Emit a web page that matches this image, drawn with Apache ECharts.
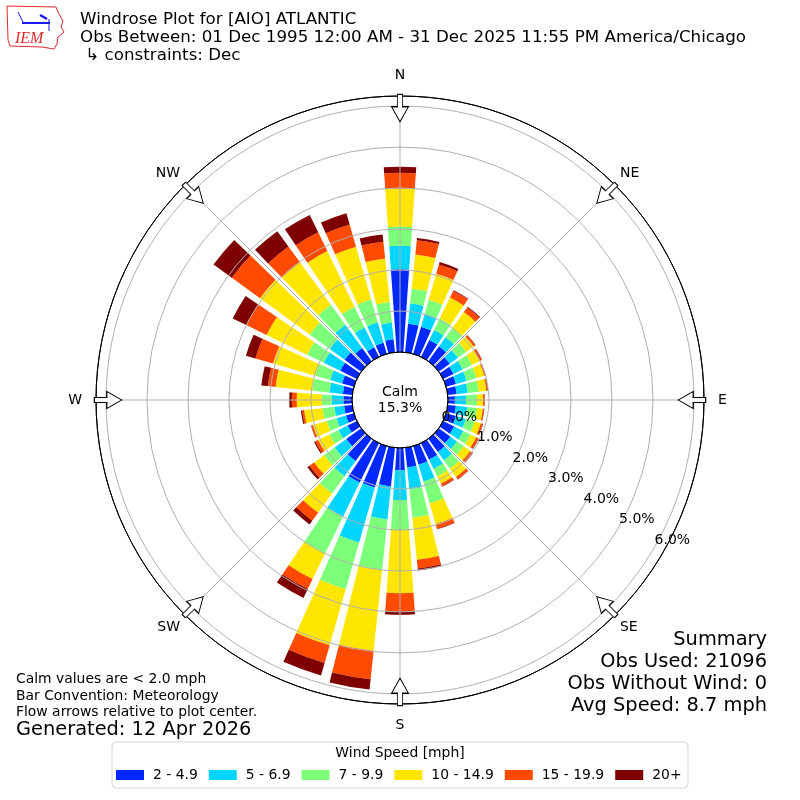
<!DOCTYPE html>
<html>
<head>
<meta charset="utf-8">
<script src="https://cdn.jsdelivr.net/npm/echarts@6/dist/echarts.min.js"></script>
<style>
html,body{margin:0;padding:0;background:#fff;}
#chart{width:800px;height:800px;}
</style>
</head>
<body>
<div id="chart"></div>
<script>
// ---- data ----
const directions = ['0','10','20','30','40','50','60','70','80','90','100','110','120','130','140','150','160','170',
  '180','190','200','210','220','230','240','250','260','270','280','290','300','310','320','330','340','350'];
const speedBins = ['2 - 4.9','5 - 6.9','7 - 9.9','10 - 14.9','15 - 19.9','20+'];
const freq_2_5   = [2.02,0.70,0.69,0.46,0.45,0.33,0.28,0.25,0.22,0.17,0.20,0.25,0.30,0.35,0.40,0.45,0.47,0.48,0.54,0.95,1.05,1.07,0.67,0.45,0.25,0.20,0.20,0.21,0.23,0.30,0.45,0.50,0.40,0.26,0.28,0.32];
const freq_5_7   = [0.57,0.50,0.33,0.27,0.27,0.25,0.25,0.27,0.27,0.27,0.28,0.25,0.25,0.20,0.25,0.25,0.43,0.54,0.73,0.81,1.40,0.93,0.46,0.35,0.25,0.24,0.24,0.29,0.33,0.30,0.45,0.45,0.70,0.54,0.52,0.41];
const freq_7_10  = [0.47,0.36,0.35,0.31,0.28,0.25,0.25,0.25,0.27,0.27,0.24,0.22,0.20,0.20,0.25,0.20,0.55,0.70,0.73,1.24,1.18,1.00,0.52,0.32,0.25,0.25,0.29,0.24,0.42,0.38,0.45,0.60,0.60,0.56,0.58,0.50];
const freq_10_15 = [0.93,0.84,0.66,0.57,0.48,0.22,0.22,0.20,0.19,0.15,0.14,0.16,0.15,0.20,0.25,0.20,0.53,1.03,1.54,1.98,1.42,0.69,0.58,0.30,0.30,0.35,0.45,0.61,0.90,1.07,1.10,1.50,1.28,1.51,1.34,1.07];
const freq_15_20 = [0.38,0.35,0.24,0.18,0.14,0.05,0.05,0.03,0.03,0.03,0.03,0.05,0.06,0.07,0.07,0.07,0.12,0.21,0.45,0.70,0.45,0.27,0.24,0.14,0.08,0.04,0.05,0.12,0.19,0.45,0.55,0.85,0.48,0.51,0.56,0.41];
const freq_20p   = [0.15,0.05,0.06,0.02,0.02,0.01,0.01,0.01,0.01,0.01,0.01,0.01,0.01,0.01,0.01,0.01,0.01,0.05,0.08,0.25,0.32,0.24,0.11,0.06,0.03,0.01,0.03,0.06,0.16,0.24,0.37,0.55,0.46,0.47,0.29,0.18];
const compassAngles = [0,45,90,135,180,225,270,315];
const compassLabels = ['N','NE','E','SE','S','SW','W','NW'];
const calmPct = 15.3;
const radialMax = 6.244;

// ---- styles ----
const speedColors = ['#0028ff','#00d5ff','#7cff79','#ffe600','#ff4a00','#7f0000'];
const FONT = 'DejaVu Sans';
const gridGray = '#b0b0b0';
const freqSeries = [freq_2_5,freq_5_7,freq_7_10,freq_10_15,freq_15_20,freq_20p];

const chart = echarts.init(document.getElementById('chart'), null, {renderer:'canvas'});

const barSeries = speedBins.map((name,i)=>({
  name: name,
  type: 'bar',
  coordinateSystem: 'polar',
  polarIndex: 0,
  stack: 'wind',
  data: freqSeries[i],
  barCategoryGap: '20%',
  itemStyle: {color: speedColors[i]},
  z: 2,
  silent: true
}));

const arrowPath = 'path://M-2.5,0L2.5,0L2.5,12.4L8.5,12.4L0,27.4L-8.5,12.4L-2.5,12.4Z';

function compassFormatter(diagonal) {
  return function(v){
    const k = compassAngles.indexOf(v);
    if (k < 0 || v === 360) return '';
    const isDiag = (v % 90) !== 0;
    return isDiag === diagonal ? compassLabels[k] : '';
  };
}

function txt(text, x, y, size, align, extra) {
  return Object.assign({
    type:'text', x:x, y:y, z: 10,
    style:{text:text, font: size+'px "'+FONT+'"', fill:'#000', textAlign:align||'left', textVerticalAlign:'middle'}
  }, extra||{});
}

const option = {
  animation:false,
  backgroundColor:'#fff',
  polar:[
    {center:['50%','50%'], radius:[48,304]},
    {center:['50%','50%'], radius:[48,304]},
    {center:['50%','50%'], radius:[48,304]},
    {center:['50%','50%'], radius:[48,304]}
  ],
  angleAxis:[
    {polarIndex:0, type:'category', data:directions, startAngle:95, clockwise:true,
     axisLine:{show:false}, axisTick:{show:false}, axisLabel:{show:false}, splitLine:{show:false}},
    {polarIndex:1, type:'value', min:0, max:360, interval:45, startAngle:90, clockwise:true, z:3,
     axisLine:{show:true, lineStyle:{color:'#000', width:1}},
     axisTick:{show:false},
     axisLabel:{show:true, margin:14, color:'#000', fontSize:14, fontFamily:FONT, formatter:compassFormatter(false)},
     splitLine:{show:true, lineStyle:{color:gridGray, width:1}}},
    {polarIndex:2, type:'value', min:0, max:360, startAngle:-30, clockwise:true, show:false},
    {polarIndex:3, type:'value', min:0, max:360, interval:45, startAngle:90, clockwise:true, z:3,
     axisLine:{show:false}, axisTick:{show:false}, splitLine:{show:false},
     axisLabel:{show:true, margin:7, color:'#000', fontSize:14, fontFamily:FONT, formatter:compassFormatter(true)}}
  ],
  radiusAxis:[
    {polarIndex:0, min:0, max:radialMax, axisLine:{show:false}, axisTick:{show:false}, axisLabel:{show:false}, splitLine:{show:false}},
    {polarIndex:1, min:0, max:radialMax, interval:1, z:3, axisLine:{show:false}, axisTick:{show:false}, axisLabel:{show:false},
     splitLine:{show:true, lineStyle:{color:['#000',gridGray,gridGray,gridGray,gridGray,gridGray,gridGray,'#000'], width:1}}},
    {polarIndex:2, min:0, max:radialMax, interval:1, z:4, axisLine:{show:false}, axisTick:{show:false}, splitLine:{show:false},
     axisLabel:{show:true, margin:0, align:'left', verticalAlign:'bottom', color:'#000', fontSize:14, fontFamily:FONT,
       formatter:function(v){return Math.abs(v-Math.round(v))<1e-6 ? v.toFixed(1)+'%' : '';}}},
    {polarIndex:3, min:0, max:radialMax, show:false}
  ],
  legend:{
    left:111, top:763, orient:'horizontal', itemWidth:28, itemHeight:10, itemGap:11, icon:'rect',
    data:speedBins, selectedMode:false,
    textStyle:{fontSize:13.9, fontFamily:FONT, color:'#000', padding:[0,0,0,4]}
  },
  series: barSeries.concat([{
    type:'scatter', coordinateSystem:'polar', polarIndex:1, z:6, silent:true,
    symbol: arrowPath, symbolSize:[17,27.4],
    symbolRotate: function(val){ return -val[1]; },
    itemStyle:{color:'#fff', borderColor:'#000', borderWidth:1, opacity:1},
    data: compassAngles.map(a=>[5.95, a])
  }]),
  graphic:[
    {type:'rect', z:0, shape:{x:112, y:742, width:576, height:46, r:4}, style:{fill:'#fff', stroke:'#d5d5d5', lineWidth:1}},
    txt('Wind Speed [mph]', 400, 753, 13.9, 'center'),
    txt('Windrose Plot for [AIO] ATLANTIC', 80, 20, 16.7),
    txt('Obs Between: 01 Dec 1995 12:00 AM - 31 Dec 2025 11:55 PM America/Chicago', 80, 38, 16.7),
    txt(' \u21b3 constraints: Dec', 80, 56, 16.7),
    txt('Calm', 400, 392, 14, 'center'),
    txt(calmPct.toFixed(1)+'%', 400, 408, 14, 'center'),
    txt('Calm values are < 2.0 mph', 16, 679, 13.9),
    txt('Bar Convention: Meteorology', 16, 696, 13.9),
    txt('Flow arrows relative to plot center.', 16, 712, 13.9),
    txt('Generated: 12 Apr 2026', 16, 730, 19.4),
    txt('Summary', 767, 640, 19.4, 'right'),
    txt('Obs Used: 21096', 767, 662, 19.4, 'right'),
    txt('Obs Without Wind: 0', 767, 684, 19.4, 'right'),
    txt('Avg Speed: 8.7 mph', 767, 706, 19.4, 'right'),
    // IEM logo (decoration)
    {type:'polyline', z:10, shape:{points:[[7,6],[56,7],[58,12],[63,21],[61,27],[64,32],[58,37],[57,44],[54,49],[42,47],[10,46],[8,40],[7,6]]},
     style:{stroke:'#e0282e', lineWidth:1, fill:null}},
    {type:'line', z:10, shape:{x1:22,y1:23,x2:50,y2:23}, style:{stroke:'#1a1aff', lineWidth:2}},
    {type:'line', z:10, shape:{x1:18,y1:12,x2:23,y2:22}, style:{stroke:'#1a1aff', lineWidth:1}},
    {type:'line', z:10, shape:{x1:40,y1:15,x2:47,y2:19}, style:{stroke:'#1a1aff', lineWidth:2.5}},
    {type:'line', z:10, shape:{x1:49,y1:19,x2:49,y2:31}, style:{stroke:'#1a1aff', lineWidth:1}},
    {type:'text', z:10, x:15, y:39, style:{text:'IEM', font:'italic 16px "Liberation Serif"', fill:'#e0282e', textAlign:'left', textVerticalAlign:'middle'}}
  ]
};
chart.setOption(option);
</script>
</body>
</html>
